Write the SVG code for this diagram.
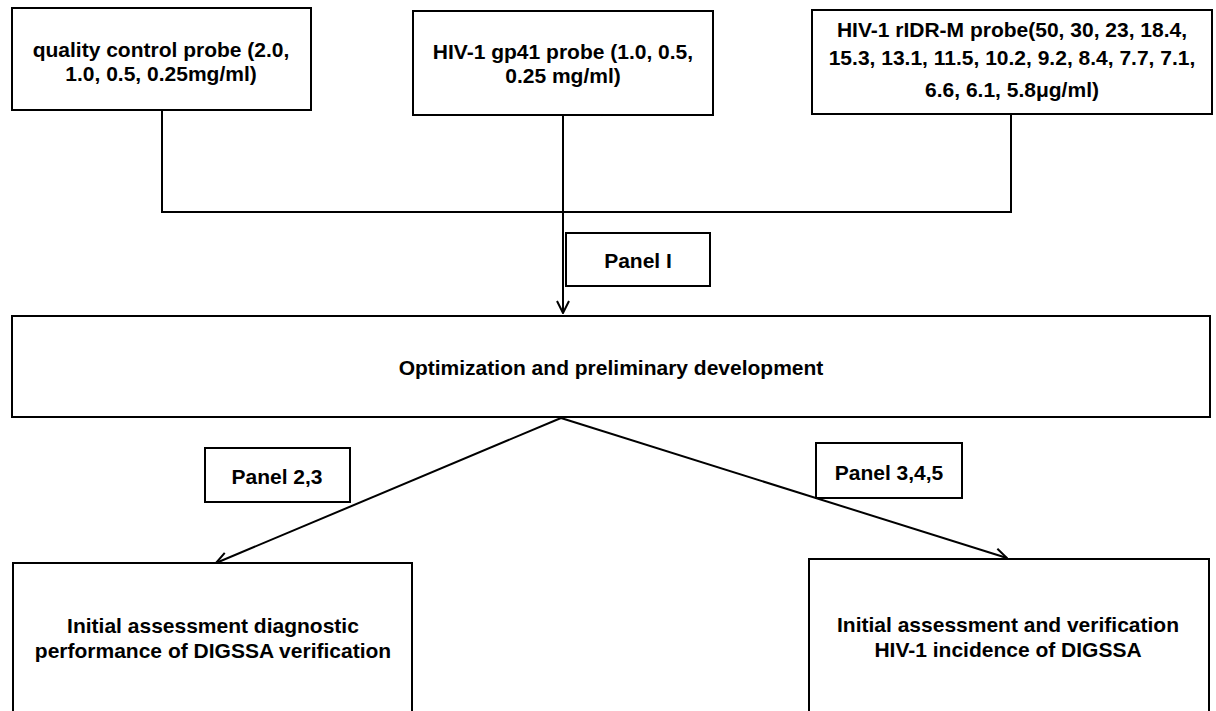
<svg xmlns="http://www.w3.org/2000/svg" width="1216" height="711" viewBox="0 0 1216 711">
  <style>
    .box { fill: #ffffff; stroke: #000000; stroke-width: 2; }
    .lbl { font-family: "Liberation Sans", Arial, sans-serif; font-weight: bold; font-size: 21px; fill: #000000; text-anchor: middle; }
    .wire { fill: none; stroke: #000000; stroke-width: 2; }
  </style>
  <defs>
    <marker id="chev" viewBox="0 0 14 14" refX="13" refY="7" markerWidth="14" markerHeight="14" markerUnits="userSpaceOnUse" orient="auto">
      <path d="M1,1 L13,7 L1,13" fill="none" stroke="#000000" stroke-width="2"/>
    </marker>
  </defs>
  <rect width="1216" height="711" fill="#ffffff"/>

  <!-- connectors -->
  <g id="connectors">
    <polyline class="wire" points="162,110 162,212 1011,212 1011,114"/>
    <line class="wire" x1="563" y1="115" x2="563" y2="313" marker-end="url(#chev)"/>
    <line class="wire" x1="561" y1="418" x2="216" y2="563" marker-end="url(#chev)"/>
    <line class="wire" x1="561" y1="418" x2="1007" y2="558" marker-end="url(#chev)"/>
  </g>

  <g id="qc-probe">
    <rect class="box" x="12" y="8" width="299" height="102"/>
    <text class="lbl" x="161" y="57">quality control probe (2.0,</text>
    <text class="lbl" x="161" y="81">1.0, 0.5, 0.25mg/ml)</text>
  </g>

  <g id="gp41-probe">
    <rect class="box" x="413" y="11" width="300" height="104"/>
    <text class="lbl" x="563" y="59">HIV-1 gp41 probe (1.0, 0.5,</text>
    <text class="lbl" x="563" y="83">0.25 mg/ml)</text>
  </g>

  <g id="ridr-probe">
    <rect class="box" x="812" y="10" width="400" height="104"/>
    <text class="lbl" x="1012" y="37">HIV-1 rIDR-M probe(50, 30, 23, 18.4,</text>
    <text class="lbl" x="1012" y="65">15.3, 13.1, 11.5, 10.2, 9.2, 8.4, 7.7, 7.1,</text>
    <text class="lbl" x="1012" y="97">6.6, 6.1, 5.8μg/ml)</text>
  </g>

  <g id="panel-1">
    <rect class="box" x="566" y="233" width="144" height="53"/>
    <text class="lbl" x="638" y="268">Panel I</text>
  </g>

  <g id="optimization">
    <rect class="box" x="12" y="316" width="1198" height="101"/>
    <text class="lbl" x="611" y="375">Optimization and preliminary development</text>
  </g>

  <g id="panel-23">
    <rect class="box" x="205" y="448" width="145" height="54"/>
    <text class="lbl" x="277" y="484">Panel 2,3</text>
  </g>

  <g id="panel-345">
    <rect class="box" x="816" y="443" width="146" height="55"/>
    <text class="lbl" x="889" y="480">Panel 3,4,5</text>
  </g>

  <g id="diagnostic">
    <rect class="box" x="13" y="563" width="399" height="160"/>
    <text class="lbl" x="213" y="633">Initial assessment diagnostic</text>
    <text class="lbl" x="213" y="658">performance of DIGSSA verification</text>
  </g>

  <g id="incidence">
    <rect class="box" x="809" y="559" width="400" height="165"/>
    <text class="lbl" x="1008" y="632">Initial assessment and verification</text>
    <text class="lbl" x="1008" y="657">HIV-1 incidence of DIGSSA</text>
  </g>
</svg>
